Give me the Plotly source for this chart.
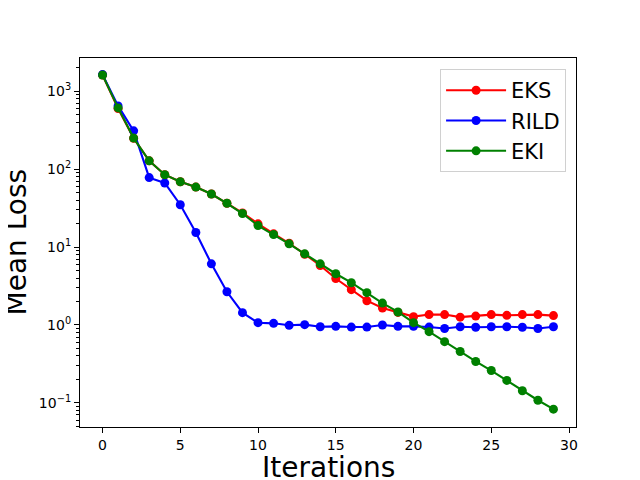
import plotly.graph_objects as go

# データ
iterations = list(range(30))

eks_loss = [1620, 600, 250, 128, 85, 69, 59, 48, 36.5, 27.5,
            19.9, 14.8, 11.2, 8.1, 5.8, 3.95, 2.84, 2.05, 1.65, 1.45,
            1.28, 1.36, 1.36, 1.26, 1.30, 1.36, 1.33, 1.36, 1.36, 1.32]

rild_loss = [1640, 650, 311, 78, 66.6, 35, 15.4, 6.1, 2.67, 1.44,
             1.07, 1.05, 0.99, 1.01, 0.95, 0.96, 0.94, 0.94, 1.0, 0.96,
             0.96, 0.94, 0.90, 0.95, 0.935, 0.95, 0.95, 0.935, 0.90, 0.95]

eki_loss = [1620, 613, 251, 128, 85, 69, 59, 48, 36.5, 27,
            18.9, 14.5, 11.0, 8.2, 6.1, 4.55, 3.49, 2.6, 1.91, 1.47,
            1.07, 0.82, 0.61, 0.456, 0.34, 0.26, 0.194, 0.143, 0.108, 0.083]

series = [('EKS', eks_loss, 'red'), ('RILD', rild_loss, 'blue'), ('EKI', eki_loss, 'green')]

y_tick_vals = [0.1, 1, 10, 100, 1000]
y_tick_text = ['10<sup>−1</sup>', '10<sup>0</sup>', '10<sup>1</sup>', '10<sup>2</sup>', '10<sup>3</sup>']

fig = go.Figure()

for name, values, color in series:
    fig.add_trace(go.Scatter(
        x=iterations,
        y=values,
        mode='lines+markers',
        name=name,
        line=dict(color=color, width=2.1),
        marker=dict(color=color, size=9),
    ))

axis_style = dict(
    showline=True,
    linecolor='black',
    linewidth=1.1,
    mirror=True,
    showgrid=False,
    zeroline=False,
    ticks='outside',
    ticklen=5,
    tickcolor='black',
    tickfont=dict(size=14, color='black'),
    automargin=False,
)

fig.update_xaxes(
    range=[-1.45, 30.45],
    tickvals=[0, 5, 10, 15, 20, 25, 30],
    **axis_style
)

fig.update_yaxes(
    type='log',
    range=[-1.31, 3.428],
    tickvals=y_tick_vals,
    ticktext=y_tick_text,
    minor=dict(ticks='outside', ticklen=2.8, tickcolor='black', dtick='D1', showgrid=False),
    **axis_style
)

# 軸ラベルは注釈で配置（位置を細かく合わせるため）
fig.add_annotation(
    text='Iterations',
    x=0.5, y=0, xref='paper', yref='paper',
    xanchor='center', yanchor='middle',
    yshift=-40,
    showarrow=False,
    font=dict(size=28, color='black'),
)
fig.add_annotation(
    text='Mean Loss',
    x=0, y=0.5, xref='paper', yref='paper',
    xanchor='center', yanchor='middle',
    xshift=-64,
    textangle=-90,
    showarrow=False,
    font=dict(size=28, color='black'),
)

# ページ余白(8px)を考慮してサイズを調整
fig.update_layout(
    width=632,
    height=472,
    margin=dict(l=72, r=64, t=49.6, b=52.8),
    paper_bgcolor='white',
    plot_bgcolor='white',
    font=dict(family='DejaVu Sans', color='black'),
    legend=dict(
        x=0.98, y=0.97,
        xanchor='right', yanchor='top',
        font=dict(size=21),
        bordercolor='#d0d0d0',
        borderwidth=1,
        bgcolor='rgba(255,255,255,0.8)',
        itemwidth=60,
    ),
    showlegend=True,
)

fig.write_html('out.html')
